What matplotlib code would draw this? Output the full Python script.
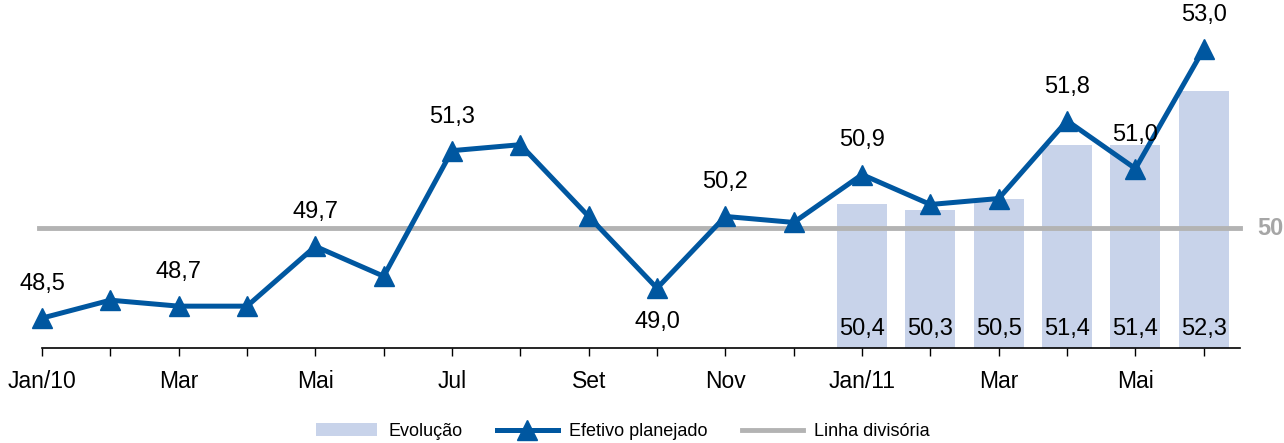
import matplotlib.pyplot as plt
import matplotlib.transforms as mtransforms
import numpy as np

plt.rcParams['font.family'] = ['Liberation Sans', 'DejaVu Sans']

months = ['Jan/10', 'Fev', 'Mar', 'Abr', 'Mai', 'Jun', 'Jul', 'Ago', 'Set', 'Out', 'Nov', 'Dez',
          'Jan/11', 'Fev', 'Mar', 'Abr', 'Mai', 'Jun']
efetivo = [48.5, 48.8, 48.7, 48.7, 49.7, 49.2, 51.3, 51.4, 50.2, 49.0, 50.2, 50.1,
           50.9, 50.4, 50.5, 51.8, 51.0, 53.0]
evolucao = [50.4, 50.3, 50.5, 51.4, 51.4, 52.3]
evolucao_idx = [12, 13, 14, 15, 16, 17]
divisoria = 50
# which line points get a label, and where (+1 above, -1 below)
labelled = {0: 1, 2: 1, 4: 1, 6: 1, 9: -1, 10: 1, 12: 1, 15: 1, 16: 1, 17: 1}

blue = '#0057A0'
bar_c = '#C8D3EA'
grey = '#B3B3B3'
ymin = 48

fig = plt.figure(figsize=(12.84, 4.43), dpi=100)
ax = fig.add_axes((0.0327, 0.2144, 0.933, 0.783))

x = np.arange(len(months))
ax.bar(evolucao_idx, np.array(evolucao) - ymin, bottom=ymin, width=0.73, color=bar_c,
       label='Evolução', zorder=1)
for i, v in zip(evolucao_idx, evolucao):
    ax.text(i, 48.32, f'{v:.1f}'.replace('.', ','), ha='center', va='center', fontsize=17)

ax.plot([-0.05, 17.53], [divisoria, divisoria], color=grey, lw=3.5, zorder=2,
        label='Linha divisória', clip_on=False)
trans = mtransforms.blended_transform_factory(fig.transFigure, ax.transData)
ax.text(0.9995, divisoria, '50', color='#A6A6A6', fontsize=17, fontweight='bold',
        ha='right', va='center', transform=trans)

ax.plot(x, efetivo, color=blue, lw=3.6, marker='^', markersize=14, zorder=3,
        label='Efetivo planejado', clip_on=False)
for i, s in labelled.items():
    ax.text(i, efetivo[i] + s * 0.57, f'{efetivo[i]:.1f}'.replace('.', ','),
            ha='center', va='center', fontsize=17)

ax.set_xlim(0, 17.53)
ax.set_ylim(ymin, 53.8)
ax.set_xticks(x)
ax.set_xticklabels([m if i % 2 == 0 else '' for i, m in enumerate(months)], fontsize=16.5)
ax.tick_params(axis='x', length=6, width=1, pad=10)
ax.set_yticks([])
for sp in ['left', 'right', 'top']:
    ax.spines[sp].set_visible(False)
ax.spines['bottom'].set_linewidth(1.2)

h, l = ax.get_legend_handles_labels()
order = [l.index('Evolução'), l.index('Efetivo planejado'), l.index('Linha divisória')]
fig.legend([h[o] for o in order], [l[o] for o in order], loc='lower center', ncol=3,
           bbox_to_anchor=(0.485, -0.03), frameon=False, fontsize=13,
           handlelength=3.4, columnspacing=1.9, handletextpad=0.6)

plt.savefig('out.png', dpi=100)
plt.close(fig)
